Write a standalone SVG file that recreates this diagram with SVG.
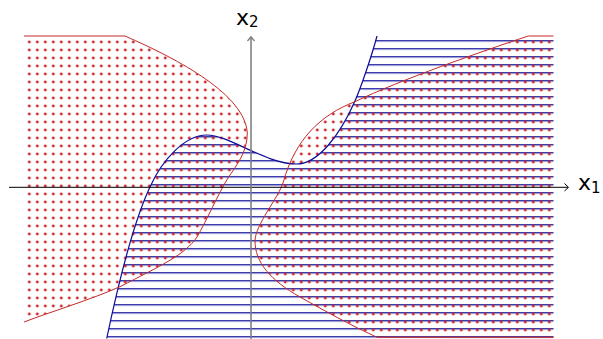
<svg xmlns="http://www.w3.org/2000/svg" width="603" height="339" viewBox="0 0 603 339">
  <style>
    .red { stroke: #c62828; stroke-width: 1; fill: none; }
    .blue { stroke: #0c0c98; stroke-width: 1.2; fill: none; }
    .lbl { font-family: "DejaVu Sans", sans-serif; font-size: 22px; fill: #000; }
    .sub { font-size: 15px; }
  </style>
  <defs>
    <pattern id="dots" patternUnits="userSpaceOnUse" x="25.3" y="182" width="8" height="8">
      <circle cx="4" cy="4" r="1.45" fill="#c62828"/>
    </pattern>
    <pattern id="hlines" patternUnits="userSpaceOnUse" x="0" y="180.2" width="8" height="8">
      <rect x="0" y="4" width="8" height="1.25" fill="#0c0c98"/>
    </pattern>
  </defs>

  <g id="blue-region">
    <path fill="url(#hlines)" d="M106.7,338.5 C118,285 132,225 150,187 C162,160 185,135 206.7,135 C230,135 265,164 296.7,164 C318,164 340,135 355,101 C361,87.4 372,55 377,36 L553.5,36 L553.5,339 Z"/>
  </g>
  <g id="red-region-left">
    <path fill="url(#dots)" d="M24,36 L125,36 C180,60 245,95 247.3,133 C247.5,152 236,166 228,178 C218,194 207,220 197,237 C185,255 160,266 120,286.7 C90,300 50,312 24,322 Z"/>
  </g>
  <g id="red-region-right">
    <path fill="url(#dots)" d="M553.5,36 L528.3,36 C480,52 400,80 355,101.7 C320,115 295,140 283.3,182 C279,197 255,225 255,241 C255,262 270,280 300,297 C325,311 350,325 377,337.3 L553.5,337.3 Z"/>
  </g>

  <g id="boundaries">
    <path class="blue" d="M106.7,338.5 C118,285 132,225 150,187 C162,160 185,135 206.7,135 C230,135 265,164 296.7,164 C318,164 340,135 355,101 C361,87.4 372,55 377,36"/>
    <path class="red" d="M24,36 L125,36 C180,60 245,95 247.3,133 C247.5,152 236,166 228,178 C218,194 207,220 197,237 C185,255 160,266 120,286.7 C90,300 50,312 24,322"/>
    <path class="red" d="M553.5,36 L528.3,36 C480,52 400,80 355,101.7 C320,115 295,140 283.3,182 C279,197 255,225 255,241 C255,262 270,280 300,297 C325,311 350,325 377,337.3 L553.5,337.3"/>
  </g>

  <g id="axes">
    <line x1="9" y1="187.3" x2="568" y2="187.3" stroke="#000" stroke-width="1"/>
    <path d="M564.5,183.5 L568.5,187.3 L564.5,191" fill="none" stroke="#000" stroke-width="1"/>
    <line x1="251" y1="339" x2="251" y2="37" stroke="#7a7a7a" stroke-width="1.5"/>
    <path d="M247.5,41 L251,36.8 L254.5,41" fill="none" stroke="#7a7a7a" stroke-width="1.2"/>
  </g>

  <g id="labels">
    <text class="lbl" x="578" y="190">x<tspan class="sub" dy="3">1</tspan></text>
    <text class="lbl" x="236" y="25">x<tspan class="sub" dy="2">2</tspan></text>
  </g>
</svg>
